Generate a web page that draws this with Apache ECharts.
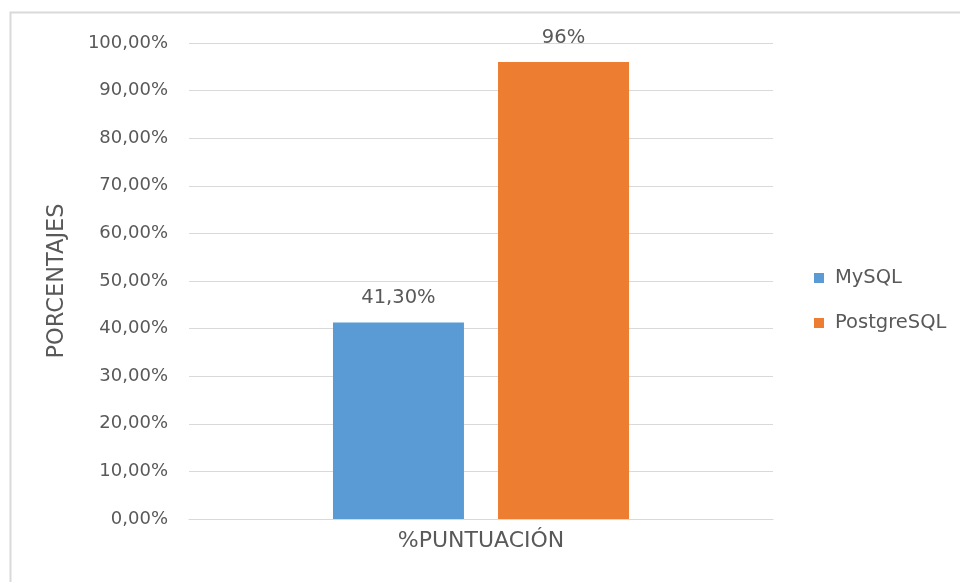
<!DOCTYPE html>
<html>
<head>
<meta charset="utf-8">
<script src="https://cdn.jsdelivr.net/npm/echarts@6/dist/echarts.min.js"></script>
<style>html,body{margin:0;padding:0;background:#fff;}#c{width:960px;height:582px;}</style>
</head>
<body>
<div id="c"></div>
<script>
const categories = ['%PUNTUACIÓN'];
const seriesNames = ['MySQL', 'PostgreSQL'];
const mysqlValues = [41.3];
const postgresValues = [96];
const valueLabels = [['41,30%'], ['96%']];
const yTickLabels = ['0,00%','10,00%','20,00%','30,00%','40,00%','50,00%','60,00%','70,00%','80,00%','90,00%','100,00%'];
const colors = ['#5B9BD5', '#ED7D31'];

const FONT = '"DejaVu Sans", sans-serif';
const chart = echarts.init(document.getElementById('c'), null, {renderer: 'canvas'});
const seriesData = [mysqlValues, postgresValues];
chart.setOption({
  animation: false,
  backgroundColor: '#fff',
  graphic: [{
    type: 'rect',
    shape: {x: 10.5, y: 12.5, width: 1000, height: 1000},
    style: {fill: 'none', stroke: '#d9d9d9', lineWidth: 2},
    silent: true, z: -1
  }],
  grid: {left: 189, right: 187, top: 43, bottom: 63, containLabel: false},
  legend: {
    orient: 'vertical',
    left: 814, top: 268,
    padding: 0,
    itemWidth: 10, itemHeight: 10, itemGap: 25,
    icon: 'rect',
    data: seriesNames,
    textStyle: {color: '#595959', fontSize: 19.5, fontFamily: FONT, lineHeight: 20, padding: [0,0,0,6]}
  },
  xAxis: {
    type: 'category',
    data: categories,
    axisLine: {lineStyle: {color: '#d9d9d9', width: 1}},
    axisTick: {show: false},
    axisLabel: {color: '#595959', fontSize: 22, fontFamily: FONT, margin: 11}
  },
  yAxis: {
    type: 'value',
    min: 0, max: 100, interval: 10,
    name: 'PORCENTAJES',
    nameLocation: 'middle',
    nameGap: 120,
    nameTextStyle: {color: '#595959', fontSize: 22.5, fontFamily: FONT},
    axisLine: {show: false},
    axisTick: {show: false},
    splitLine: {lineStyle: {color: '#d9d9d9', width: 1}},
    axisLabel: {
      color: '#595959', fontSize: 18, fontFamily: FONT, margin: 21,
      formatter: function (v) { return yTickLabels[Math.round(v / 10)]; }
    }
  },
  series: seriesNames.map(function (name, i) {
    return {
      name: name,
      type: 'bar',
      data: seriesData[i],
      barWidth: 131,
      barGap: '26%',
      itemStyle: {color: colors[i]},
      label: {
        show: true, position: 'top', distance: 14,
        color: '#595959', fontSize: 19.5, fontFamily: FONT,
        formatter: function (p) { return valueLabels[i][p.dataIndex]; }
      }
    };
  })
});
</script>
</body>
</html>
